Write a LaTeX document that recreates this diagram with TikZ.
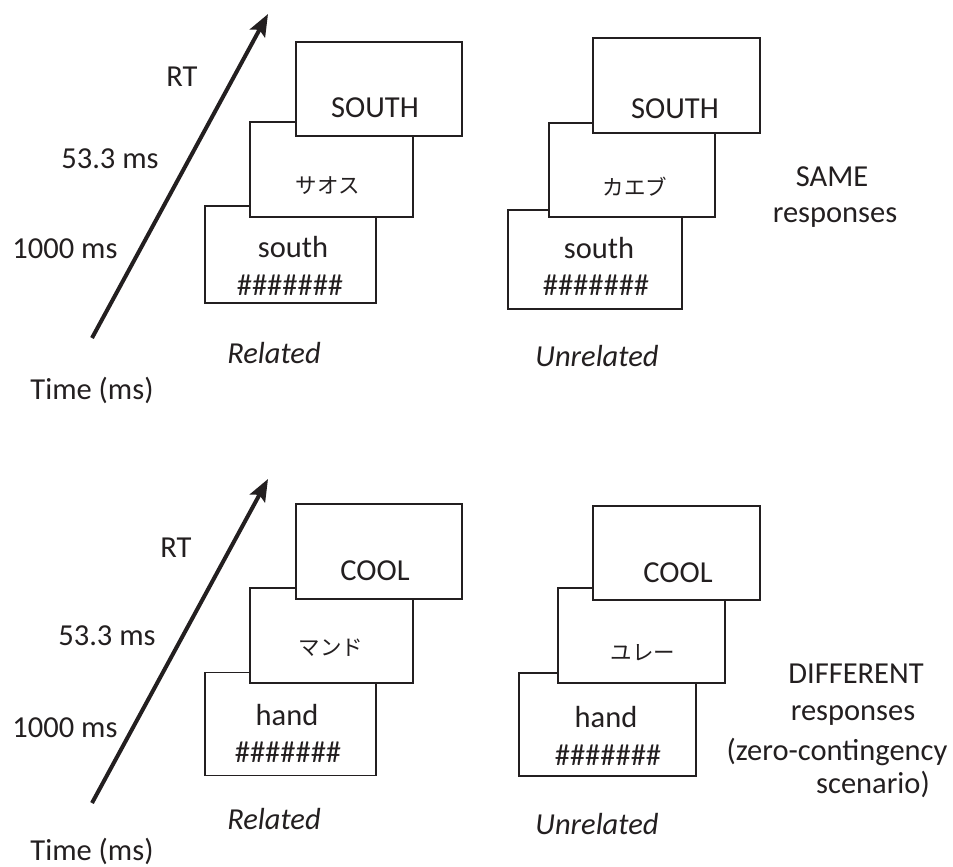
\documentclass[tikz,border=0pt]{standalone}
\usepackage{fontspec}
\setmainfont{Carlito}
\newfontfamily\jpfont{Noto Sans CJK JP}
\usetikzlibrary{arrows.meta}
\definecolor{ink}{RGB}{35,31,32}
\begin{document}
\begin{tikzpicture}[x=1pt,y=-1pt,
  stim/.style={draw=ink, line width=1.3pt, fill=white, inner sep=0pt},
  lbl/.style={text=ink, font=\fontsize{30.5}{36}\selectfont, anchor=base, inner sep=0pt},
  ilbl/.style={lbl, font=\fontsize{30.5}{36}\selectfont\itshape},
  kana/.style={text=ink, font=\jpfont\fontsize{21.5}{26}\selectfont, inner sep=0pt},
  timearrow/.style={draw=ink, line width=4pt, -{Stealth[length=22pt,width=17pt,inset=4pt]}}]
\useasboundingbox (0,0) rectangle (953,867);

% ---------------- SAME responses ----------------
% time axis
\coordinate (ta1) at (92,338);
\coordinate (tb1) at (268,14);
\draw[timearrow] (ta1) -- (tb1);
\node[lbl] (rt1)   at (182,86)  {RT};
\node[lbl] (soa1)  at (110,168) {53.3 ms};
\node[lbl] (fix1)  at (65,258)  {1000 ms};
\node[lbl] (time1) at (92,399)  {Time (ms)};

% related trial: prime/mask, masked prime, target
\node[stim, minimum width=171pt, minimum height=97pt] (r1a) at (290.5,254.5) {};
\node[stim, minimum width=163pt, minimum height=95pt] (r1b) at (331.5,169.5) {};
\node[stim, minimum width=166pt, minimum height=94pt] (r1c) at (379,89) {};
\node[lbl] (r1w)  at (293,257) {south};
\node[lbl] (r1m)  at (290,295) {\#\#\#\#\#\#\#};
\node[kana] (r1k) at (328,186) {サオス};
\node[lbl] (r1t)  at (375,117) {SOUTH};
\node[ilbl] (r1l) at (274,363) {Related};

% unrelated trial
\node[stim, minimum width=174pt, minimum height=99pt] (u1a) at (595,259.5) {};
\node[stim, minimum width=166pt, minimum height=94pt] (u1b) at (632,170) {};
\node[stim, minimum width=167pt, minimum height=95pt] (u1c) at (676.5,85.5) {};
\node[lbl] (u1w)  at (599,258) {south};
\node[lbl] (u1m)  at (596,295) {\#\#\#\#\#\#\#};
\node[kana] (u1k) at (635,187) {カエブ};
\node[lbl] (u1t)  at (675,118) {SOUTH};
\node[ilbl] (u1l) at (597,366) {Unrelated};

\node[lbl] (c1a) at (832,186) {SAME};
\node[lbl] (c1b) at (835,222) {responses};

% ---------------- DIFFERENT responses ----------------
\coordinate (ta2) at (92,803);
\coordinate (tb2) at (268,479);
\draw[timearrow] (ta2) -- (tb2);
\node[lbl] (rt2)   at (176,557) {RT};
\node[lbl] (soa2)  at (107,645) {53.3 ms};
\node[lbl] (fix2)  at (65,737)  {1000 ms};
\node[lbl] (time2) at (92,860)  {Time (ms)};

% related trial
\node[stim, minimum width=171pt, minimum height=103pt] (r2a) at (290.5,724) {};
\node[stim, minimum width=163pt, minimum height=95pt] (r2b) at (331.5,635.5) {};
\node[stim, minimum width=166pt, minimum height=95pt] (r2c) at (379,551.5) {};
\node[lbl] (r2w)  at (287,725) {hand};
\node[lbl] (r2m)  at (288,762) {\#\#\#\#\#\#\#};
\node[kana] (r2k) at (331,648) {マンド};
\node[lbl] (r2t)  at (375,580) {COOL};
\node[ilbl] (r2l) at (274,829) {Related};

% unrelated trial
\node[stim, minimum width=177pt, minimum height=103pt] (u2a) at (607.5,724.5) {};
\node[stim, minimum width=167pt, minimum height=95pt] (u2b) at (641.5,635.5) {};
\node[stim, minimum width=167pt, minimum height=94pt] (u2c) at (676.5,553) {};
\node[lbl] (u2w)  at (606,727) {hand};
\node[lbl] (u2m)  at (608,765) {\#\#\#\#\#\#\#};
\node[kana] (u2k) at (643,653) {ユレー};
\node[lbl] (u2t)  at (678,582) {COOL};
\node[ilbl] (u2l) at (597,834) {Unrelated};

\node[lbl] (c2a) at (856,683) {DIFFERENT};
\node[lbl] (c2b) at (853,720) {responses};
\node[lbl] (c2c) at (837,760) {(zero-contingency};
\node[lbl] (c2d) at (873,793) {scenario)};
\end{tikzpicture}
\end{document}
